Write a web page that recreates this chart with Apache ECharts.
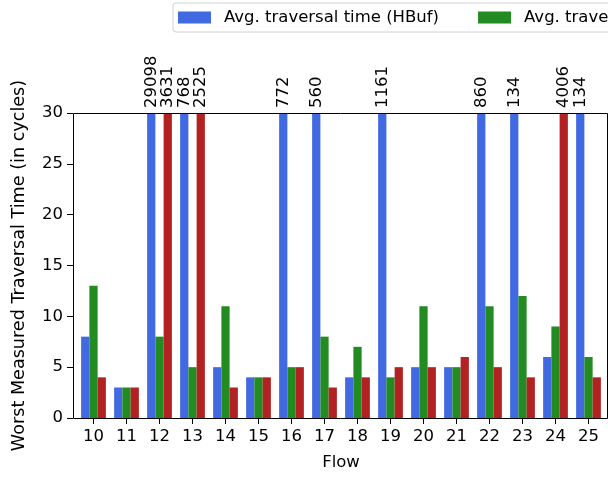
<!DOCTYPE html>
<html>
<head>
<meta charset="utf-8">
<script src="https://cdn.jsdelivr.net/npm/echarts@6/dist/echarts.min.js"></script>
<style>
html,body{margin:0;padding:0;background:#fff;}
#chart{width:608px;height:478px;}
</style>
</head>
<body>
<div id="chart"></div>
<script>
// Data
const flows = ['10','11','12','13','14','15','16','17','18','19','20','21','22','23','24','25'];
const seriesNames = ['Avg. traversal time (HBuf)', 'Avg. traversal time (SBuf)', 'Avg. traversal time (NoBuf)'];
const hbuf  = [8, 3, 29098, 768, 5, 4, 772, 560, 4, 1161, 5, 5, 860, 134, 6, 134];
const sbuf  = [13, 3, 8, 5, 11, 4, 5, 8, 7, 4, 11, 5, 11, 12, 9, 6];
const nobuf = [4, 3, 3631, 2525, 3, 4, 5, 3, 4, 5, 5, 6, 5, 4, 4006, 4];
const yTicks = [0, 5, 10, 15, 20, 25, 30];
const colors = ['#4169E1', '#228B22', '#B22222'];

const yMax = yTicks[yTicks.length - 1];
const FONT = 'DejaVu Sans';
const FS = 16.5;

function makeData(arr) {
  return arr.map(v => {
    const item = { value: Math.min(v, yMax) };
    if (v > yMax) {
      item.label = {
        show: true,
        formatter: String(v),
        position: 'top',
        rotate: 90,
        align: 'left',
        verticalAlign: 'middle',
        distance: 5,
        color: '#000',
        fontFamily: FONT,
        fontSize: FS
      };
    }
    return item;
  });
}

const chart = echarts.init(document.getElementById('chart'), null, { renderer: 'canvas' });
const option = {
  animation: false,
  backgroundColor: '#fff',
  textStyle: { fontFamily: FONT },
  legend: {
    left: 173,
    top: 3,
    width: 1200,
    padding: [6, 7, 6, 5],
    itemGap: 39,
    itemWidth: 33,
    itemHeight: 12,
    borderColor: '#d0d0d0',
    borderWidth: 1,
    borderRadius: 3,
    icon: 'rect',
    textStyle: { fontFamily: FONT, fontSize: FS, color: '#000', padding: [0, 0, 0, 8] },
    data: seriesNames
  },
  grid: { left: 77, right: 3, top: 113, bottom: 60, containLabel: false },
  xAxis: {
    type: 'category',
    data: flows,
    name: 'Flow',
    nameLocation: 'middle',
    nameGap: 36,
    nameTextStyle: { fontFamily: FONT, fontSize: FS, color: '#000' },
    axisLine: { show: false },
    axisTick: { show: true, alignWithLabel: true, length: 6, lineStyle: { color: '#000' } },
    axisLabel: { fontFamily: FONT, fontSize: FS, color: '#000', margin: 10 },
    splitLine: { show: false }
  },
  yAxis: {
    type: 'value',
    min: 0,
    max: yMax,
    interval: 5,
    offset: 4,
    name: 'Worst Measured Traversal Time (in cycles)',
    nameLocation: 'middle',
    nameGap: 45,
    nameTextStyle: { fontFamily: FONT, fontSize: 17.6, color: '#000' },
    axisLine: { show: false },
    axisTick: { show: true, length: 6, lineStyle: { color: '#000' } },
    axisLabel: { fontFamily: FONT, fontSize: FS, color: '#000', margin: 10 },
    splitLine: { show: false }
  },
  graphic: [{
    type: 'rect',
    z: 100,
    silent: true,
    shape: { x: 73.5, y: 113.5, width: 534, height: 305 },
    style: { fill: null, stroke: '#000', lineWidth: 1 }
  }],
  series: [hbuf, sbuf, nobuf].map((arr, i) => ({
    name: seriesNames[i],
    type: 'bar',
    data: makeData(arr),
    barWidth: '25%',
    barGap: '0%',
    itemStyle: { color: colors[i] },
    clip: false
  }))
};
chart.setOption(option);
</script>
</body>
</html>
